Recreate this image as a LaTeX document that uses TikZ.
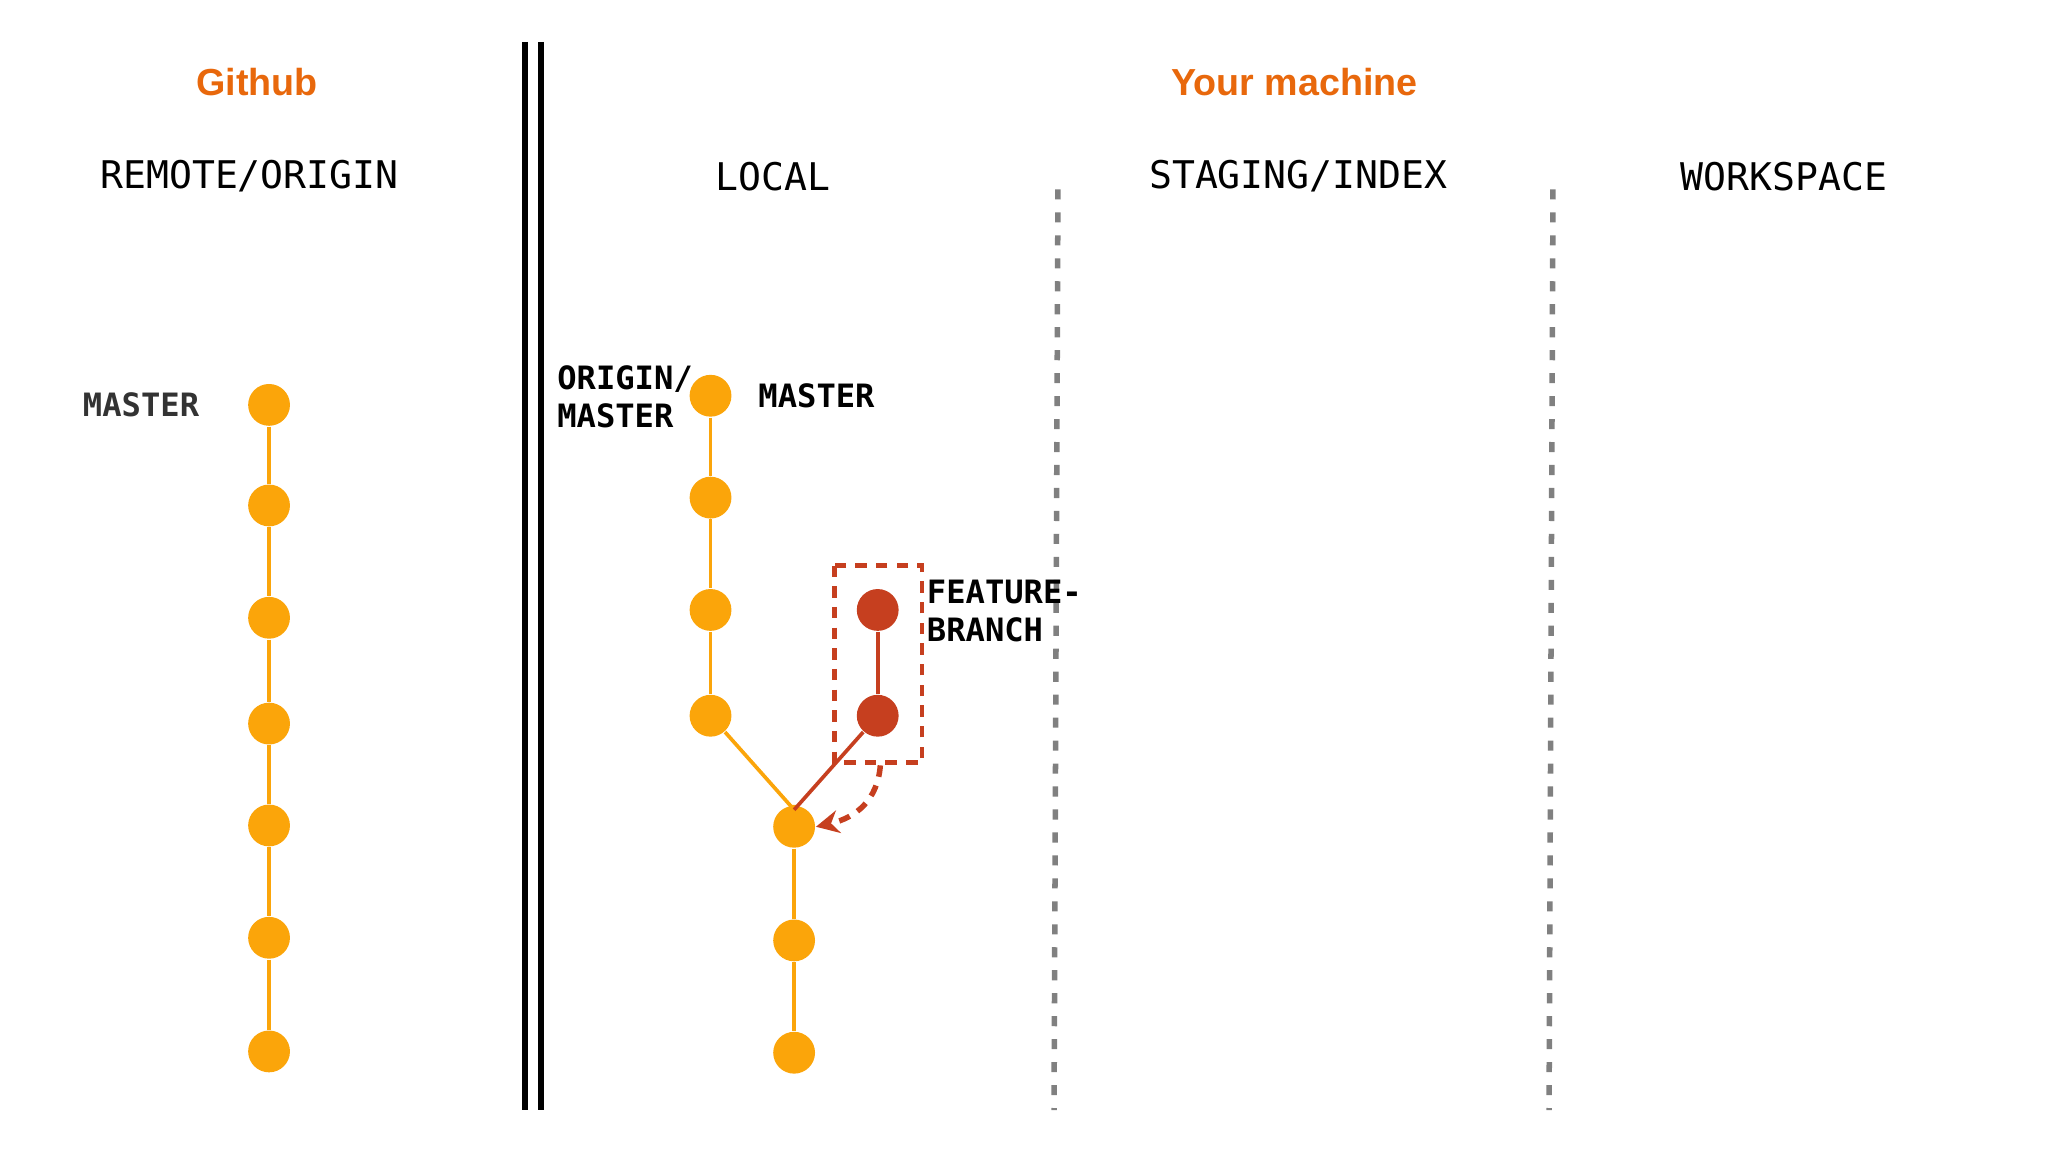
\documentclass[tikz,border=0pt]{standalone}
\usepackage{fontspec}
\setmainfont{Liberation Sans}
\newfontfamily\monof{DejaVu Sans Mono}
\usetikzlibrary{arrows.meta}
\definecolor{gorange}{HTML}{FBA50A}
\definecolor{tred}{HTML}{C63F1F}
\definecolor{titleor}{HTML}{E8680C}
\tikzset{
 P/.style={x=0.01cm,y=-0.01cm},
 odot/.style={circle,fill=gorange,minimum size=0.32cm,inner sep=0},
 rdot/.style={circle,fill=tred,minimum size=0.32cm,inner sep=0},
 hdr/.style={font=\monof\fontsize{8.3}{10}\selectfont},
 lbl/.style={font=\monof\bfseries\fontsize{7}{8.2}\selectfont,align=left,inner sep=0},
 ttl/.style={font=\bfseries\fontsize{8.2}{10}\selectfont,text=titleor},
 oline/.style={gorange,line width=0.8pt},
 rline/.style={tred,line width=0.8pt},
}
\begin{document}
\begin{tikzpicture}[P]
\useasboundingbox (0,0) rectangle (1568,882);
\node[ttl] (t1) at (197,63) {Github};
\node[ttl] (t2) at (991,63) {Your machine};
\node[hdr] (h1) at (191,135) {REMOTE/ORIGIN};
\node[hdr] (h2) at (592,135) {LOCAL};
\node[hdr] (h3) at (994,135) {STAGING/INDEX};
\node[hdr] (h4) at (1366,135) {WORKSPACE};
\draw[line width=1.4pt] (402,32) -- (402,850);
\draw[line width=1.4pt] (414,32) -- (414,850);
\draw[gray,line width=1.2pt,dash pattern=on 2.2pt off 2.8pt] (810,145) -- (807,850);
\draw[gray,line width=1.2pt,dash pattern=on 2.2pt off 2.8pt] (1189,145) -- (1186,850);
% remote
\foreach \y [count=\i] in {310,387,473,554,632,718,805} \node[odot] (r\i) at (206,\y) {};
\foreach \i [evaluate=\i as \j using int(\i+1)] in {1,...,6} \draw[oline] (r\i) -- (r\j);
\node[lbl,text=black!80] (m1) at (108,310) {MASTER};
% local
\node[odot] (l1) at (544,303) {};
\node[odot] (l2) at (544,381) {};
\node[odot] (l3) at (544,467) {};
\node[odot] (l4) at (544,548) {};
\node[odot] (l5) at (608,633) {};
\node[odot] (l6) at (608,720) {};
\node[odot] (l7) at (608,806) {};
\node[rdot] (f1) at (672,467) {};
\node[rdot] (f2) at (672,548) {};
\coordinate (j) at (608,620);
\draw[oline] (l1)--(l2)--(l3)--(l4);
\draw[oline] (l4) -- (j) -- (l5);
\draw[oline] (l5)--(l6)--(l7);
\draw[rline] (f1)--(f2);
\draw[rline] (f2)--(j);
\node[lbl,anchor=west] (om) at (426,304) {ORIGIN/\\MASTER};
\node[lbl,anchor=west] (m2) at (580,303) {MASTER};
\node[lbl,anchor=west] (fb) at (709,468) {FEATURE-\\BRANCH};
\draw[tred,line width=1pt,dash pattern=on 2.5pt off 2pt] (639,433) rectangle (706,584);
\coordinate (a0) at (674,586);
\draw[tred,line width=1.2pt,dash pattern=on 2.5pt off 2pt,-{Stealth[length=5pt,width=5pt]}] (a0) .. controls (672,612) and (656,626) .. (l5.east);
\end{tikzpicture}
\end{document}
